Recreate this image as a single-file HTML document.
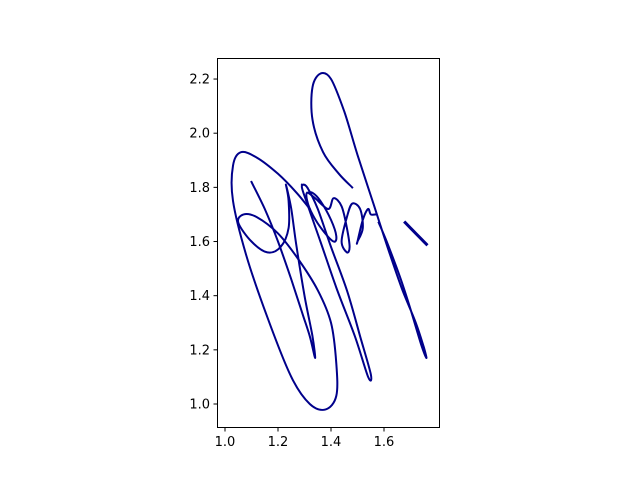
<!DOCTYPE html>
<html><head><meta charset="utf-8"><style>
body{margin:0;background:#fff;font-family:"Liberation Sans","DejaVu Sans",sans-serif}
svg text{font-size:13px;fill:#000;font-family:"DejaVu Sans","Liberation Sans",sans-serif}
</style></head><body>
<svg id="chart" width="640" height="480" xmlns="http://www.w3.org/2000/svg">
<rect x="0" y="0" width="640" height="480" fill="#fff"/>
<g id="plot"></g>
<rect x="217.5" y="58.5" width="222" height="369" fill="none" stroke="#000" stroke-width="1"/>
<g id="axes"></g>
</svg>
<script>
const xTicks=[1.0,1.2,1.4,1.6];
const xTickLabels=["1.0","1.2","1.4","1.6"];
const yTicks=[1.0,1.2,1.4,1.6,1.8,2.0,2.2];
const yTickLabels=["1.0","1.2","1.4","1.6","1.8","2.0","2.2"];
const stroke1X=[1.10,1.15,1.20,1.25,1.29,1.32,1.34,1.33,1.30,1.27,1.25,1.23,1.24,1.24,1.21,1.16,1.10,1.05,1.07,1.12,1.20,1.28,1.35,1.40,1.42,1.42,1.38,1.32,1.25,1.16,1.08,1.03,1.03,1.06,1.12,1.20,1.27,1.32];
const stroke1Y=[1.82,1.72,1.60,1.46,1.34,1.25,1.17,1.25,1.40,1.58,1.72,1.81,1.75,1.65,1.58,1.56,1.60,1.67,1.70,1.69,1.63,1.53,1.42,1.30,1.15,1.03,0.98,1.00,1.10,1.32,1.55,1.75,1.88,1.93,1.91,1.85,1.78,1.72];
const stroke2X=[1.29,1.31,1.35,1.40,1.46,1.51,1.55,1.54,1.49,1.42,1.36,1.31,1.29,1.30,1.31];
const stroke2Y=[1.81,1.80,1.72,1.58,1.42,1.25,1.11,1.10,1.25,1.43,1.60,1.74,1.80,1.81,1.80];
const stroke3X=[1.31,1.33,1.36,1.40,1.42,1.41,1.37,1.33,1.31,1.31,1.34,1.39,1.41,1.44,1.46,1.47,1.46,1.44,1.46,1.48,1.51,1.52,1.50,1.50,1.52,1.54,1.55,1.57];
const stroke3Y=[1.78,1.78,1.75,1.68,1.62,1.60,1.64,1.70,1.75,1.78,1.76,1.72,1.76,1.73,1.65,1.58,1.56,1.60,1.69,1.74,1.72,1.65,1.60,1.60,1.68,1.72,1.70,1.70];
const stroke4X=[1.48,1.43,1.37,1.33,1.33,1.36,1.40,1.45,1.50,1.56,1.62,1.67,1.72,1.75,1.76,1.74,1.70,1.66,1.61,1.58];
const stroke4Y=[1.80,1.85,1.93,2.05,2.17,2.22,2.20,2.08,1.92,1.74,1.56,1.42,1.30,1.21,1.17,1.22,1.35,1.47,1.60,1.67];
const stroke5X=[1.68,1.71,1.74,1.76];
const stroke5Y=[1.67,1.64,1.61,1.59];
const sx=v=>225+(v-1)*265;
const sy=v=>404-(v-1)*270.8;
const NS="http://www.w3.org/2000/svg";
const plot=document.getElementById('plot'),axes=document.getElementById('axes');
function smooth(xs,ys){
  const p=xs.map((x,i)=>[sx(x),sy(ys[i])]);
  let d="M"+p[0][0].toFixed(1)+","+p[0][1].toFixed(1);
  for(let i=0;i<p.length-1;i++){
    const p0=p[Math.max(0,i-1)],p1=p[i],p2=p[i+1],p3=p[Math.min(p.length-1,i+2)];
    const c1=[p1[0]+(p2[0]-p0[0])/6,p1[1]+(p2[1]-p0[1])/6];
    const c2=[p2[0]-(p3[0]-p1[0])/6,p2[1]-(p3[1]-p1[1])/6];
    d+=" C"+c1.map(v=>v.toFixed(1))+" "+c2.map(v=>v.toFixed(1))+" "+p2.map(v=>v.toFixed(1));
  }
  return d;
}
const strokes=[[stroke1X,stroke1Y],[stroke2X,stroke2Y],[stroke3X,stroke3Y],[stroke4X,stroke4Y],[stroke5X,stroke5Y]];
strokes.forEach((s,i)=>{
  const path=document.createElementNS(NS,'path');
  path.setAttribute('d',smooth(s[0],s[1]));
  path.setAttribute('fill','none');path.setAttribute('stroke','#00008b');
  path.setAttribute('stroke-width',i===4?'3':'2');path.setAttribute('stroke-linecap','square');
  
  
  plot.appendChild(path);
});
xTicks.forEach((t,i)=>{
  const x=sx(t);
  const l=document.createElementNS(NS,'line');
  l.setAttribute('x1',x);l.setAttribute('x2',x);l.setAttribute('y1',427.5);l.setAttribute('y2',431.5);l.setAttribute('stroke','#000');
  
  
  axes.appendChild(l);
  const tx=document.createElementNS(NS,'text');
  tx.setAttribute('x',x);tx.setAttribute('y',446);tx.setAttribute('text-anchor','middle');tx.textContent=xTickLabels[i];
  
  
  axes.appendChild(tx);
});
yTicks.forEach((t,i)=>{
  const y=sy(t);
  const l=document.createElementNS(NS,'line');
  l.setAttribute('x1',213.5);l.setAttribute('x2',217.5);l.setAttribute('y1',y);l.setAttribute('y2',y);l.setAttribute('stroke','#000');
  
  
  axes.appendChild(l);
  const tx=document.createElementNS(NS,'text');
  tx.setAttribute('x',210);tx.setAttribute('y',y+4.5);tx.setAttribute('text-anchor','end');tx.textContent=yTickLabels[i];
  
  
  axes.appendChild(tx);
});
</script>
</body></html>
